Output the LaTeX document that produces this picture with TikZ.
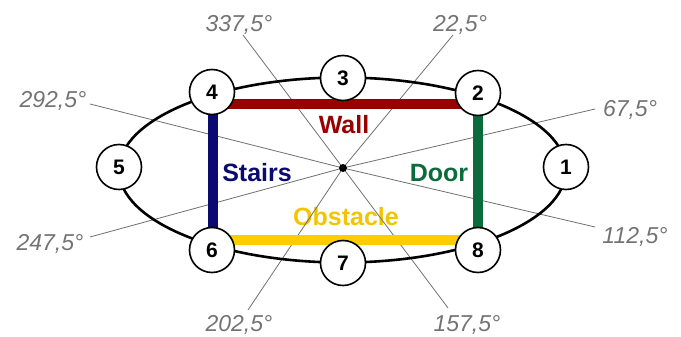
\documentclass[tikz,border=0pt]{standalone}
\usepackage{fontspec}
\setmainfont{Liberation Sans}
\definecolor{wallc}{HTML}{990000}
\definecolor{stairc}{HTML}{0A0A70}
\definecolor{doorc}{HTML}{0B6B3A}
\definecolor{obstc}{HTML}{FFCC00}
\definecolor{obsttext}{HTML}{F2C500}
\definecolor{raygray}{HTML}{707070}
\begin{document}
\begin{tikzpicture}[x=1pt,y=-1pt,
  ray/.style={draw=raygray, line width=0.8pt},
  deg/.style={anchor=base, inner sep=0pt, text=black!55, font=\itshape\fontsize{23}{23}\selectfont},
  wp/.style={circle, draw, line width=1.6pt, fill=white, minimum size=45pt, inner sep=0pt,
             font=\bfseries\fontsize{21}{21}\selectfont},
  bar/.style={line width=10pt},
  tag/.style={inner sep=0pt, font=\bfseries\fontsize{25}{25}\selectfont}]
\useasboundingbox (0,0) rectangle (681,337);

% waypoint positions
\coordinate (p1) at (566,167);
\coordinate (p2) at (478,93);
\coordinate (p3) at (343,78);
\coordinate (p4) at (212,92);
\coordinate (p5) at (119,167);
\coordinate (p6) at (212,250);
\coordinate (p7) at (343,263);
\coordinate (p8) at (478,250);

% region labels
\node[tag, text=wallc]    (wall)  at (344,125) {Wall};
\node[tag, text=stairc]   (stair) at (257,173) {Stairs};
\node[tag, text=doorc]    (door)  at (439,173) {Door};
\node[tag, text=obsttext] (obst)  at (346,217) {Obstacle};

% heading labels and the rays ending at them
\node[deg] (a0)   at (460,32)  {22,5°};
\node[deg] (a1)   at (630,117) {67,5°};
\node[deg] (a2)   at (635,243) {112,5°};
\node[deg] (a3)   at (467,331) {157,5°};
\node[deg] (a4)   at (239,331) {202,5°};
\node[deg] (a5)   at (50,250)  {247,5°};
\node[deg] (a6)   at (53,108)  {292,5°};
\node[deg] (a7)   at (239,32)  {337,5°};

\coordinate (r0) at (453,35);
\coordinate (r1) at (595,109);
\coordinate (r2) at (595,227);
\coordinate (r3) at (448,308);
\coordinate (r4) at (248,310);
\coordinate (r5) at (90,237);
\coordinate (r6) at (90,104);
\coordinate (r7) at (243,35);

\coordinate (c0) at (343,168);
\foreach \i in {0,...,7} \draw[ray] (c0) -- (r\i);

% outer loop
\draw[line width=2.6pt] (342.5,170) ellipse [x radius=223.5pt, y radius=92.5pt];

% coloured boundaries
\draw[bar, wallc]  ([yshift=-12pt]p4) -- ([yshift=-11pt]p2);
\draw[bar, stairc] ([xshift=1pt]p4) -- ([xshift=1pt]p6);
\draw[bar, doorc]  (p2) -- (p8);
\draw[bar, obstc]  ([yshift=10pt]p6) -- ([yshift=10pt]p8);

% centre point
\node[circle, fill, inner sep=0pt, minimum size=8pt] (c) at (c0) {};

% waypoints
\foreach \i in {1,...,8} \node[wp] (n\i) at (p\i) {\i};
\end{tikzpicture}
\end{document}
